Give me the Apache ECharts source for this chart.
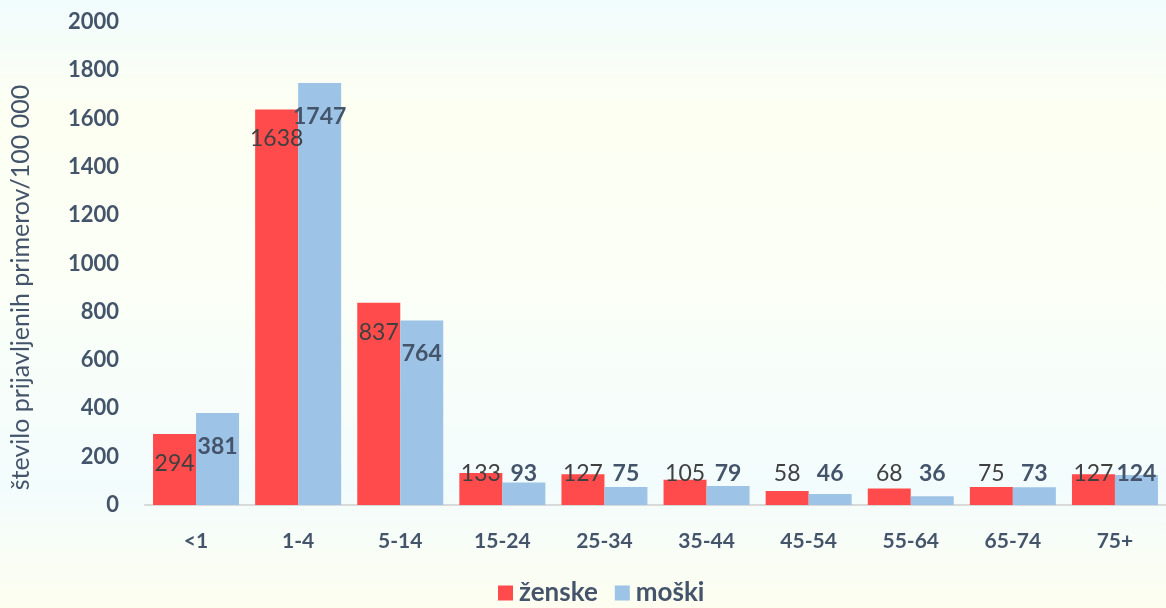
<!DOCTYPE html>
<html><head><meta charset="utf-8">
<script src="https://cdn.jsdelivr.net/npm/echarts@6/dist/echarts.min.js"></script>
<style>html,body{margin:0;padding:0;}#c{width:1166px;height:608px;}</style>
</head><body><div id="c"></div>
<script>
const categories = ['<1','1-4','5-14','15-24','25-34','35-44','45-54','55-64','65-74','75+'];
const zenske = [294,1638,837,133,127,105,58,68,75,127];
const moski = [381,1747,764,93,75,79,46,36,73,124];
const seriesNames = ['ženske','moški'];
const yAxisName = 'število prijavljenih primerov/100 000';

const FONT = 'Lato, "Open Sans", sans-serif';
const TXT = '#44546a';

function items(arr, isRed){
  return arr.map(v => ({
    value: v,
    label: v > 200
      ? {position:'insideTop', offset:[0, isRed?13:17]}
      : {position:'insideBottom', offset:[0, -15]}
  }));
}

const chart = echarts.init(document.getElementById('c'));
chart.setOption({
  animation:false,
  backgroundColor:{type:'linear',x:0,y:0,x2:0,y2:1,colorStops:[
    {offset:0,color:'#f1fcfd'},{offset:0.18,color:'#fdfff2'},
    {offset:0.45,color:'#fbfff6'},{offset:0.8,color:'#f3fcfd'},{offset:1,color:'#fdfef0'}]},
  grid:{left:143, top:22, right:0, bottom:103, containLabel:false},
  legend:{bottom:-3, left:493, itemWidth:15, itemHeight:15, itemGap:17, icon:'rect',
    textStyle:{fontFamily:FONT, fontSize:26, fontWeight:'bold', color:TXT, padding:[0,0,0,1]}},
  xAxis:{type:'category', data:categories,
    axisLine:{lineStyle:{color:'#d9d9d9', width:2}}, axisTick:{show:false},
    axisLabel:{fontFamily:FONT, fontSize:21, fontWeight:'bold', color:TXT, margin:26}},
  yAxis:{type:'value', min:0, max:2000, interval:200,
    name:yAxisName, nameLocation:'middle', nameGap:112,
    nameTextStyle:{fontFamily:FONT, fontSize:25, color:TXT, padding:[0,48,0,0]},
    splitLine:{show:false}, axisLine:{show:false}, axisTick:{show:false},
    axisLabel:{fontFamily:FONT, fontSize:22, fontWeight:'bold', color:TXT, margin:26,
      formatter: v => String(v)}},
  series:[
    {name:seriesNames[0], type:'bar', data:items(zenske,true), barWidth:43, barGap:'0%',
     itemStyle:{color:'#ff4b4b'},
     label:{show:true, fontFamily:FONT, fontSize:23, color:'#404040'}},
    {name:seriesNames[1], type:'bar', data:items(moski,false), barWidth:43, barGap:'0%',
     itemStyle:{color:'#9dc3e6'},
     label:{show:true, fontFamily:FONT, fontSize:23, fontWeight:'bold', color:TXT}}
  ]
});
</script></body></html>
